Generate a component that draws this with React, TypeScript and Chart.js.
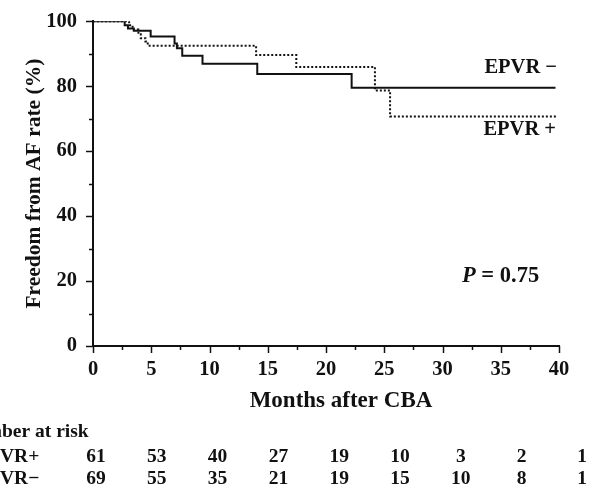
import React, { useEffect, useRef } from 'react';
import { Chart, registerables } from 'chart.js';

Chart.register(...registerables);

// Kaplan-Meier curves (months after CBA, freedom from AF %)
const monthsMinus = [0, 2.72, 3.0, 3.5, 4.95, 7.0, 7.2, 7.66, 9.4, 14.1, 22.2, 39.7];
const rateMinus = [100, 98.8, 97.8, 97.1, 95.3, 93.2, 91.7, 89.4, 86.9, 83.8, 79.5, 79.5];
const monthsPlus = [0, 3.1, 3.4, 3.9, 4.1, 4.5, 4.7, 14.0, 17.45, 24.2, 25.5, 39.8];
const ratePlus = [100, 98.8, 97.5, 96.0, 94.8, 93.8, 92.5, 89.6, 85.9, 78.7, 70.7, 70.7];

// Number at risk
const riskTimes = [0, 5, 10, 15, 20, 25, 30, 35, 40];
const riskPlus = [61, 53, 40, 27, 19, 10, 3, 2, 1];
const riskMinus = [69, 55, 35, 21, 19, 15, 10, 8, 1];

const labelMinus = 'EPVR \u2212';
const labelPlus = 'EPVR +';
const pText = ' = 0.75';
const xTitle = 'Months after CBA';
const yTitle = 'Freedom from AF rate (%)';

const SERIF = '"Liberation Serif", "Times New Roman", serif';

const overlay = {
  id: 'overlay',
  afterDraw(chart: any) {
    const { ctx, scales } = chart;
    const xs = scales.x;
    const ys = scales.y;
    const left = chart.chartArea.left;
    const bottom = chart.chartArea.bottom;
    ctx.save();
    ctx.strokeStyle = '#111';
    ctx.lineWidth = 1.5;
    // y ticks (major every 20, minor every 10)
    for (let v = 0; v <= 100; v += 10) {
      const y = Math.round(ys.getPixelForValue(v)) + 0.5;
      const len = v % 20 === 0 ? 7 : 4;
      ctx.beginPath();
      ctx.moveTo(left - len, y);
      ctx.lineTo(left, y);
      ctx.stroke();
    }
    // x ticks (major every 5, minor every 2.5)
    for (let v = 0; v <= 40; v += 2.5) {
      const x = Math.round(xs.getPixelForValue(v)) + 0.5;
      const len = v % 5 === 0 ? 7 : 4;
      ctx.beginPath();
      ctx.moveTo(x, bottom);
      ctx.lineTo(x, bottom + len);
      ctx.stroke();
    }

    ctx.fillStyle = '#111';
    ctx.textBaseline = 'alphabetic';
    // curve labels
    ctx.font = `bold 20.5px ${SERIF}`;
    ctx.textAlign = 'right';
    ctx.fillText(labelMinus, 557, 72.5);
    ctx.fillText(labelPlus, 556, 135);

    // P value
    ctx.textAlign = 'left';
    ctx.font = `italic bold 22.5px ${SERIF}`;
    ctx.fillText('P', 462, 281.5);
    const pw = ctx.measureText('P').width;
    ctx.font = `bold 22.5px ${SERIF}`;
    ctx.fillText(pText, 462 + pw, 281.5);

    // x title
    ctx.textAlign = 'center';
    ctx.font = `bold 23px ${SERIF}`;
    ctx.fillText(xTitle, 341, 407);

    // number at risk (cropped at the left edge as in the source)
    ctx.font = `bold 19.5px ${SERIF}`;
    ctx.textAlign = 'left';
    const numW = ctx.measureText('Num').width;
    ctx.fillText('Number at risk', 2 - numW, 437);
    const epW = ctx.measureText('EP').width;
    ctx.fillText('EPVR+', 0 - epW, 462);
    ctx.fillText('EPVR\u2212', 0 - epW, 484);

    ctx.textAlign = 'center';
    riskTimes.forEach((t, i) => {
      const x = i < riskTimes.length - 1 ? 96 + 60.8 * i : 582;
      ctx.fillText(String(riskPlus[i]), x, 462);
      ctx.fillText(String(riskMinus[i]), x, 484);
    });
    ctx.restore();
  },
};

export default function App() {
  const ref = useRef<HTMLCanvasElement | null>(null);

  useEffect(() => {
    if (!ref.current) return;
    const tickFont = { family: SERIF, size: 20.5, weight: 'bold' as const };
    const chart = new Chart(ref.current, {
      type: 'line',
      data: {
        datasets: [
          {
            label: 'EPVR-',
            data: monthsMinus.map((m, i) => ({ x: m, y: rateMinus[i] })),
            stepped: 'before',
            borderColor: '#111',
            borderWidth: 2,
            pointRadius: 0,
            fill: false,
          },
          {
            label: 'EPVR+',
            data: monthsPlus.map((m, i) => ({ x: m, y: ratePlus[i] })),
            stepped: 'before',
            borderColor: '#111',
            borderWidth: 2,
            borderDash: [2, 2],
            pointRadius: 0,
            fill: false,
          },
        ],
      },
      options: {
        animation: false,
        responsive: false,
        layout: { padding: { left: 0, right: 48, top: 16, bottom: 0 } },
        plugins: { legend: { display: false }, tooltip: { enabled: false } },
        scales: {
          x: {
            type: 'linear',
            min: 0,
            max: 40,
            afterFit: (s: any) => {
              s.height = 145;
            },
            grid: { display: false, drawTicks: true, tickLength: 7 },
            border: { display: true, color: '#111', width: 2 },
            ticks: { stepSize: 5, color: '#111', font: tickFont, padding: 4, maxRotation: 0 },
          },
          y: {
            type: 'linear',
            min: 0,
            max: 100,
            afterFit: (s: any) => {
              s.width = 93;
            },
            grid: { display: false, drawTicks: true, tickLength: 7 },
            border: { display: true, color: '#111', width: 2 },
            ticks: { stepSize: 20, color: '#111', font: tickFont, padding: 9 },
            title: {
              display: true,
              text: yTitle,
              color: '#111',
              font: { family: SERIF, size: 21.5, weight: 'bold' },
              padding: { top: 22, bottom: 0 },
            },
          },
        },
      },
      plugins: [overlay],
    });
    return () => chart.destroy();
  }, []);

  return (
    <div style={{ position: 'absolute', left: 0, top: 0, width: 607, height: 491, background: '#fff' }}>
      <canvas ref={ref} width={607} height={491} />
    </div>
  );
}
